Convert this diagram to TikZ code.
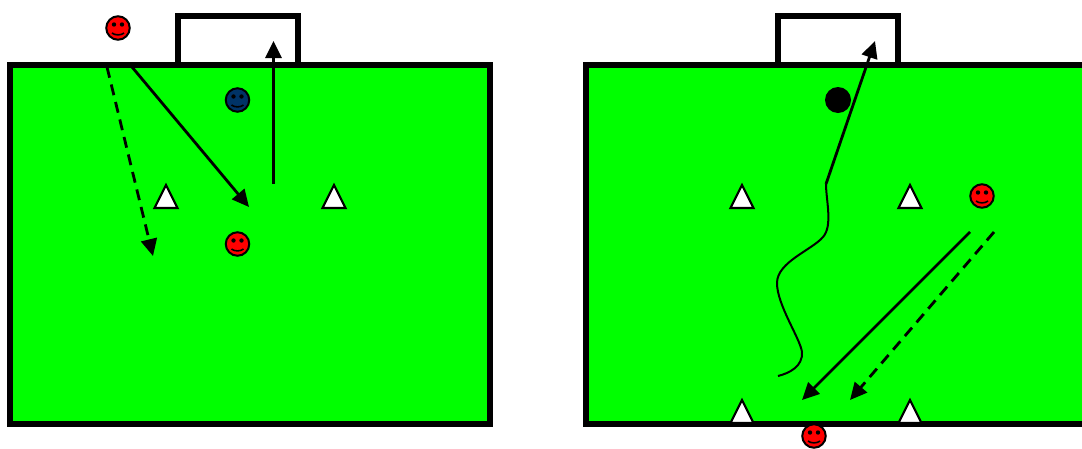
\documentclass[tikz,border=0pt]{standalone}
\usetikzlibrary{arrows.meta}
\definecolor{pitchgreen}{RGB}{0,255,0}
\definecolor{navyplayer}{RGB}{0,51,102}
\tikzset{
  pitch/.style={draw=black,line width=6pt,fill=pitchgreen},
  goalframe/.style={draw=black,line width=6pt,line join=miter},
  player/.style={circle,draw=black,line width=2pt,minimum size=23.5pt,inner sep=0pt},
  ball/.style={circle,fill=black,minimum size=26pt,inner sep=0pt},
  conetri/.style={draw=black,fill=white,line width=2.2pt,line join=miter},
  run/.style={draw=black,line width=2.8pt,-{Triangle[length=17pt,width=16pt]}},
  pass/.style={run,dash pattern=on 11pt off 7pt},
  dribble/.style={draw=black,line width=2pt},
}
\newcommand{\smiley}[4]{% name, x, y, colour
  \node[player,fill=#4] (#1) at (#2,#3) {};
  \fill[black] (#2-4,#3-3.5) circle (2.2pt) (#2+4,#3-3.5) circle (2.2pt);
  \draw[black,line width=1.6pt] (#2-6,#3+5) .. controls (#2-3,#3+7.5) and (#2+3,#3+7.5) .. (#2+6,#3+5);
}
\newcommand{\conemark}[3]{% name, x, base y
  \draw[conetri] (#2-11.5,#3) -- (#2,#3-23) -- (#2+11.5,#3) -- cycle;
  \coordinate (#1) at (#2,#3);
}
\begin{document}
\begin{tikzpicture}[x=1pt,y=-1pt]
\useasboundingbox (0,0) rectangle (1082,448);
\clip (0,0) rectangle (1082,448);
% left pitch
\draw[goalframe] (177.5,64) |- (298,16) -- (298,64);
\draw[pitch] (10,64.5) rectangle (490,423.5);
% right pitch
\draw[goalframe] (778,64) |- (898,16) -- (898,64);
\draw[pitch] (586,64.5) rectangle (1100,423.5);
% cones
\conemark{c1}{166}{208}
\conemark{c2}{334}{208}
\conemark{c3}{742}{208}
\conemark{c4}{910}{208}
\conemark{c5}{742}{423}
\conemark{c6}{910}{423}
% players
\smiley{p1}{118}{28}{red}
\smiley{p2}{237.5}{100}{navyplayer}
\smiley{p3}{237.5}{244}{red}
\smiley{p4}{982}{196}{red}
\smiley{p5}{814}{436}{red}
\node[ball] (b1) at (838,100) {};
% connector ends
\coordinate (a1s) at (107,67);  \coordinate (a1e) at (153,256);
\coordinate (a2s) at (132,67);  \coordinate (a2e) at (249,207);
\coordinate (a3s) at (273.5,184); \coordinate (a3e) at (273.5,41);
\coordinate (a4s) at (826,184); \coordinate (a4e) at (875,41);
\coordinate (a5s) at (970,232); \coordinate (a5e) at (802,400);
\coordinate (a6s) at (994,232); \coordinate (a6e) at (850,400);
\coordinate (d1) at (778,376);
\draw[pass] (a1s) -- (a1e);
\draw[run] (a2s) -- (a2e);
\draw[run] (a3s) -- (a3e);
\draw[run] (a4s) -- (a4e);
\draw[run] (a5s) -- (a5e);
\draw[pass] (a6s) -- (a6e);
\draw[dribble] (d1) .. controls (790,373) and (803,366) .. (802,352)
  .. controls (800,338) and (777,305) .. (777,283)
  .. controls (777,262) and (812,250) .. (823,237)
  .. controls (833,226) and (826,200) .. (a4s);
\end{tikzpicture}
\end{document}
